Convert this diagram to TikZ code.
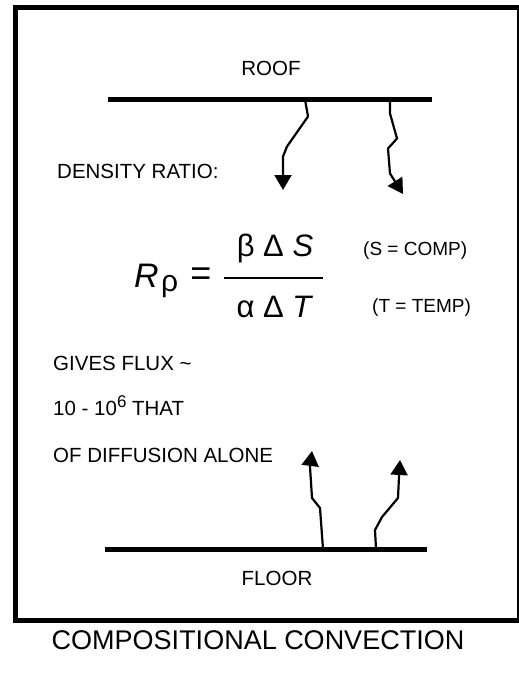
\documentclass[tikz,border=0pt]{standalone}
\usepackage{fontspec}
\setmainfont{Liberation Sans}
\usetikzlibrary{positioning, arrows.meta}

\begin{document}
\begin{tikzpicture}[
      x=1pt, y=-1pt,
      node distance=1cm and 1cm,
      % Styling nodes
      walltext/.style={inner sep=0pt, font=\fontsize{20.5}{24}\selectfont},
      sidetext/.style={walltext, anchor=base west},
      notetext/.style={inner sep=0pt, anchor=base west, font=\fontsize{19}{22}\selectfont},
      eqtext/.style={inner sep=0pt, font=\fontsize{31}{36}\selectfont},
      heading/.style={inner sep=0pt, font=\fontsize{27}{32}\selectfont},
      plate/.style={line width=5pt},
      flow/.style={line width=2.2pt, line join=round, -{Triangle[width=17pt,length=15pt]}}
    ]
    \useasboundingbox (0,0) rectangle (519,677);

    % Outer frame
    \draw[line width=5pt] (15,8) rectangle (519.5,620);

    % Roof and floor plates
    \coordinate (roofL) at (108,99.5);
    \coordinate (roofR) at (432,99.5);
    \coordinate (floorL) at (105,549);
    \coordinate (floorR) at (427,549);
    \draw[plate] (roofL) -- (roofR);
    \draw[plate] (floorL) -- (floorR);

    \node (roof) [walltext] at (271,68) {ROOF};
    \node (floor) [walltext] at (277,578) {FLOOR};

    % Left column of text
    \node (density) [sidetext] at (57,178) {DENSITY RATIO:};
    \node (gives) [sidetext] at (53,370) {GIVES FLUX \textasciitilde};
    \node (tenpow) [sidetext, below=45pt of gives.base west, anchor=base west]
      {10 - 10\raisebox{8pt}{\fontsize{17}{17}\selectfont 6} THAT};
    \node (diffusion) [sidetext, below=47pt of tenpow.base west, anchor=base west]
      {OF DIFFUSION ALONE};

    % Density ratio formula
    \node (rr) [eqtext, anchor=base west, font=\fontsize{34}{36}\selectfont]
      at (134,287) {\itshape R};
    \node (rho) [inner sep=0pt, anchor=base west, font=\fontsize{30}{32}\selectfont]
      at (161,291) {ρ};
    \node (equals) [inner sep=0pt, font=\fontsize{36}{38}\selectfont] at (201,277) {=};
    \node (num) [eqtext, anchor=base] at (275,256) {β Δ \itshape S};
    \node (den) [eqtext, anchor=base] at (274,317) {α Δ \itshape T};
    \coordinate (fracL) at (224,278);
    \coordinate (fracR) at (323,278);
    \draw[line width=2pt] (fracL) -- (fracR);

    \node (scomp) [notetext] at (363,255) {(S = COMP)};
    \node (ttemp) [notetext] at (372,312) {(T = TEMP)};

    % Plumes falling from the roof
    \coordinate (d1) at (305,99.5);
    \coordinate (t1) at (283,190);
    \draw[flow] (d1) -- ++(3,17) -- ++(-21,30) -- ++(-4,10) -- (t1);
    \coordinate (d2) at (390,99.5);
    \coordinate (t2) at (403,194);
    \draw[flow] (d2) -- ++(0,14) -- ++(7,25) -- ++(-9,10) -- ++(2,25) -- (t2);

    % Plumes rising from the floor
    \coordinate (u1) at (323,549);
    \coordinate (t3) at (312,451);
    \draw[flow] (u1) -- ++(-3,-41) -- ++(-8,-10) -- ++(-2,-31) -- (t3);
    \coordinate (u2) at (376,549);
    \coordinate (t4) at (400,460);
    \draw[flow] (u2) -- ++(-1,-19) -- ++(7,-13) -- ++(16,-19) -- ++(1,-21) -- (t4);

    % Caption
    \node (caption) [heading] at (258,640) {COMPOSITIONAL CONVECTION};

  \end{tikzpicture}
\end{document}
